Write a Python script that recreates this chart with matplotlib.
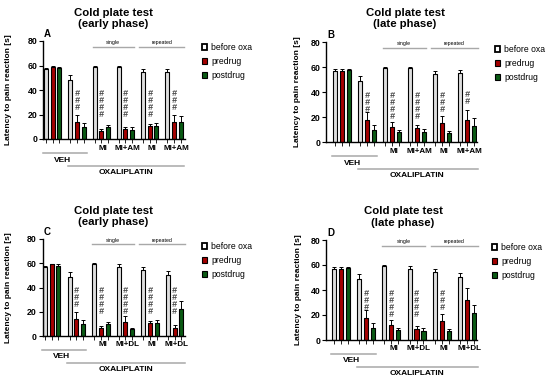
import matplotlib
matplotlib.use("Agg")
import matplotlib.pyplot as plt
from matplotlib.patches import Patch
import matplotlib.transforms as mtransforms
import numpy as np

plt.rcParams["font.family"] = ["Liberation Sans", "DejaVu Sans"]

W, H = 550, 380
fig = plt.figure(figsize=(5.5, 3.8), dpi=100)
fig.patch.set_facecolor("white")

SERIES = ["before oxa", "predrug", "postdrug"]
COLORS = ["#dedede", "#a50000", "#0a5a14"]
LEG_COLORS = ["white", "#a50000", "#0a5a14"]
GROUP_STEP = 3.65

# panel A: early phase, MI / MI+AM
a_before = [57, 48, 59, 59, 54.5, 55]
a_before_err = [1, 4, 1, 1, 2.5, 2.5]
a_pre = [59, 14, 6.5, 8, 10.5, 13.5]
a_pre_err = [0.5, 6, 1.5, 2, 2, 6]
a_post = [58, 10, 10, 7.5, 10.5, 13.5]
a_post_err = [1, 3, 1.5, 2, 2.5, 5.5]
a_hashes = [0, 3, 4, 4, 4, 3]

# panel B: late phase, MI / MI+AM
b_before = [57, 48.5, 59, 59, 54.5, 55]
b_before_err = [1.5, 4, 1, 1, 2.5, 2.5]
b_pre = [57, 18, 12, 11, 15, 18]
b_pre_err = [1.5, 6, 4, 2.5, 6, 7.5]
b_post = [57.5, 10, 8, 8, 7, 13]
b_post_err = [1, 3.5, 2, 2.5, 2, 6]
b_hashes = [0, 3, 4, 4, 3, 2]

# panel C: early phase, MI / MI+DL
c_before = [57, 48.5, 59, 56.5, 54.5, 50.5]
c_before_err = [1, 4, 1, 2.5, 2.5, 3.5]
c_pre = [59, 14, 6.5, 11.5, 10.5, 7]
c_pre_err = [0.5, 6, 1.5, 5, 2, 2]
c_post = [58, 10, 10, 5.5, 10.5, 22]
c_post_err = [1, 3, 1.5, 1.5, 2.5, 6.5]
c_hashes = [0, 3, 4, 4, 4, 4]

# panel D: late phase, MI / MI+DL
d_before = [57, 48.5, 59, 56.5, 54.5, 50.5]
d_before_err = [1.5, 4, 1, 2.5, 2.5, 3.5]
d_pre = [57, 18, 12, 9, 15, 32]
d_pre_err = [1.5, 6, 4, 2.5, 6, 9.5]
d_post = [57.5, 10, 8, 7.5, 7, 22]
d_post_err = [1, 3.5, 2, 2, 2, 6]
d_hashes = [0, 3, 4, 4, 3, 0]

labels_am = ["", "", "MI", "MI+AM", "MI", "MI+AM"]
labels_dl = ["", "", "MI", "MI+DL", "MI", "MI+DL"]
yticks = [0, 20, 40, 60, 80]


def px_rect(l, r, t, b):
    return [l / W, 1 - b / H, (r - l) / W, (b - t) / H]


def draw_panel(rect, xlim, letter, title, title_xy, means, errs, hashes,
               labels, leg_xy, ylab_x):
    l, r, t, b = rect
    hpx = b - t
    ax = fig.add_axes(px_rect(l, r, t, b))
    ng = len(means[0])
    for j in range(3):
        x = np.arange(ng) * GROUP_STEP + j
        ax.bar(x, means[j], width=0.6, color=COLORS[j], edgecolor="black",
               linewidth=0.8, zorder=2)
        ax.errorbar(x, means[j], yerr=[np.zeros(ng), errs[j]], fmt="none",
                    ecolor="black", elinewidth=0.7, capsize=1.1,
                    capthick=0.7, zorder=3)
    # hash marks above predrug bars, one stacked column per group
    for g, n in enumerate(hashes):
        if n:
            ax.text(g * GROUP_STEP + 1, 38 - (n - 1) * 6.3 / 2,
                    "\n".join(["#"] * n), ha="center", va="center",
                    fontsize=6.5, color="#4a4a4a", fontstyle="italic",
                    fontweight="bold", linespacing=0.72, zorder=4)
    allx = (np.arange(ng)[:, None] * GROUP_STEP + np.arange(3)).ravel()
    ax.set_xticks(allx)
    ax.set_xticklabels([])
    ax.set_xlim(*xlim)
    ax.set_ylim(0, 80)
    ax.set_yticks(yticks)
    ax.set_yticklabels([str(v) for v in yticks], fontsize=6.3,
                       fontweight="bold")
    ax.tick_params(axis="y", length=3, width=0.8, pad=1)
    ax.tick_params(axis="x", length=3, width=0.6)
    for s in ["top", "right"]:
        ax.spines[s].set_visible(False)
    for s in ["left", "bottom"]:
        ax.spines[s].set_linewidth(1.0)

    tr = mtransforms.blended_transform_factory(ax.transData, ax.transAxes)

    def below(px):
        return -px / hpx

    # group labels under bars
    for g, lab in enumerate(labels):
        if lab:
            ax.text(g * GROUP_STEP + 1.3, below(9), lab, transform=tr,
                    ha="center", va="center", fontsize=5.8,
                    fontweight="bold")
    # VEH and OXALIPLATIN brackets
    ax.plot([-0.45, 6.15], [below(14)] * 2, transform=tr, color="#a8a8a8",
            lw=1.1, clip_on=False)
    ax.text(2.5, below(21), "VEH", transform=tr, ha="center", va="center",
            fontsize=6, fontweight="bold")
    ax.plot([3.3, 20.8], [below(27)] * 2, transform=tr, color="#a8a8a8",
            lw=1.1, clip_on=False)
    ax.text(12, below(33.5), "OXALIPLATIN", transform=tr, ha="center",
            va="center", fontsize=6, fontweight="bold")
    # single / repeated brackets
    ax.plot([7.0, 13.2], [1 - 5.5 / hpx] * 2, transform=tr,
            color="#a8a8a8", lw=1.0, clip_on=False)
    ax.text(10.1, 1 - 1.5 / hpx, "single", transform=tr, ha="center",
            va="center", fontsize=3.8)
    ax.plot([14.0, 20.8], [1 - 5.5 / hpx] * 2, transform=tr,
            color="#a8a8a8", lw=1.0, clip_on=False)
    ax.text(17.4, 1 - 1.5 / hpx, "repeated", transform=tr, ha="center",
            va="center", fontsize=3.8)

    ax.set_ylabel("Latency to pain reaction [s]", fontsize=6,
                  fontweight="bold")
    ax.yaxis.set_label_coords((ylab_x - l) / (r - l), 0.5)

    fig.text(l / W + 0.002, 1 - (t - 7) / H, letter, fontsize=7,
             fontweight="bold", ha="left", va="center")
    fig.text(title_xy[0] / W, 1 - title_xy[1] / H, title, fontsize=8.2,
             fontweight="bold", ha="center", va="center", linespacing=1.15)

    handles = [Patch(facecolor=LEG_COLORS[j], edgecolor="black",
                     linewidth=1.3 if j == 0 else 0.8) for j in range(3)]
    fig.legend(handles, SERIES, loc="upper left",
               bbox_to_anchor=(leg_xy[0] / W, 1 - leg_xy[1] / H),
               frameon=False, fontsize=6.2, handlelength=0.6,
               handleheight=0.75, handletextpad=0.5, labelspacing=0.6,
               borderpad=0, borderaxespad=0)
    return ax


draw_panel((43, 185, 41, 139), (-0.45, 20.9), "A",
           "Cold plate test\n(early phase)", (113, 18.5),
           [a_before, a_pre, a_post], [a_before_err, a_pre_err, a_post_err],
           a_hashes, labels_am, (202, 43), 12)
draw_panel((326, 477, 42, 142), (-1.3, 20.7), "B",
           "Cold plate test\n(late phase)", (405, 18.5),
           [b_before, b_pre, b_post], [b_before_err, b_pre_err, b_post_err],
           b_hashes, labels_am, (495, 45), 301)
draw_panel((42.5, 185, 239, 336), (-0.37, 20.8), "C",
           "Cold plate test\n(early phase)", (113, 216.5),
           [c_before, c_pre, c_post], [c_before_err, c_pre_err, c_post_err],
           c_hashes, labels_dl, (202, 242), 12)
draw_panel((326, 477, 240, 340), (-1.15, 20.7), "D",
           "Cold plate test\n(late phase)", (403, 217),
           [d_before, d_pre, d_post], [d_before_err, d_pre_err, d_post_err],
           d_hashes, labels_dl, (492, 243), 302)

fig.savefig("out.png", dpi=100, facecolor="white")
